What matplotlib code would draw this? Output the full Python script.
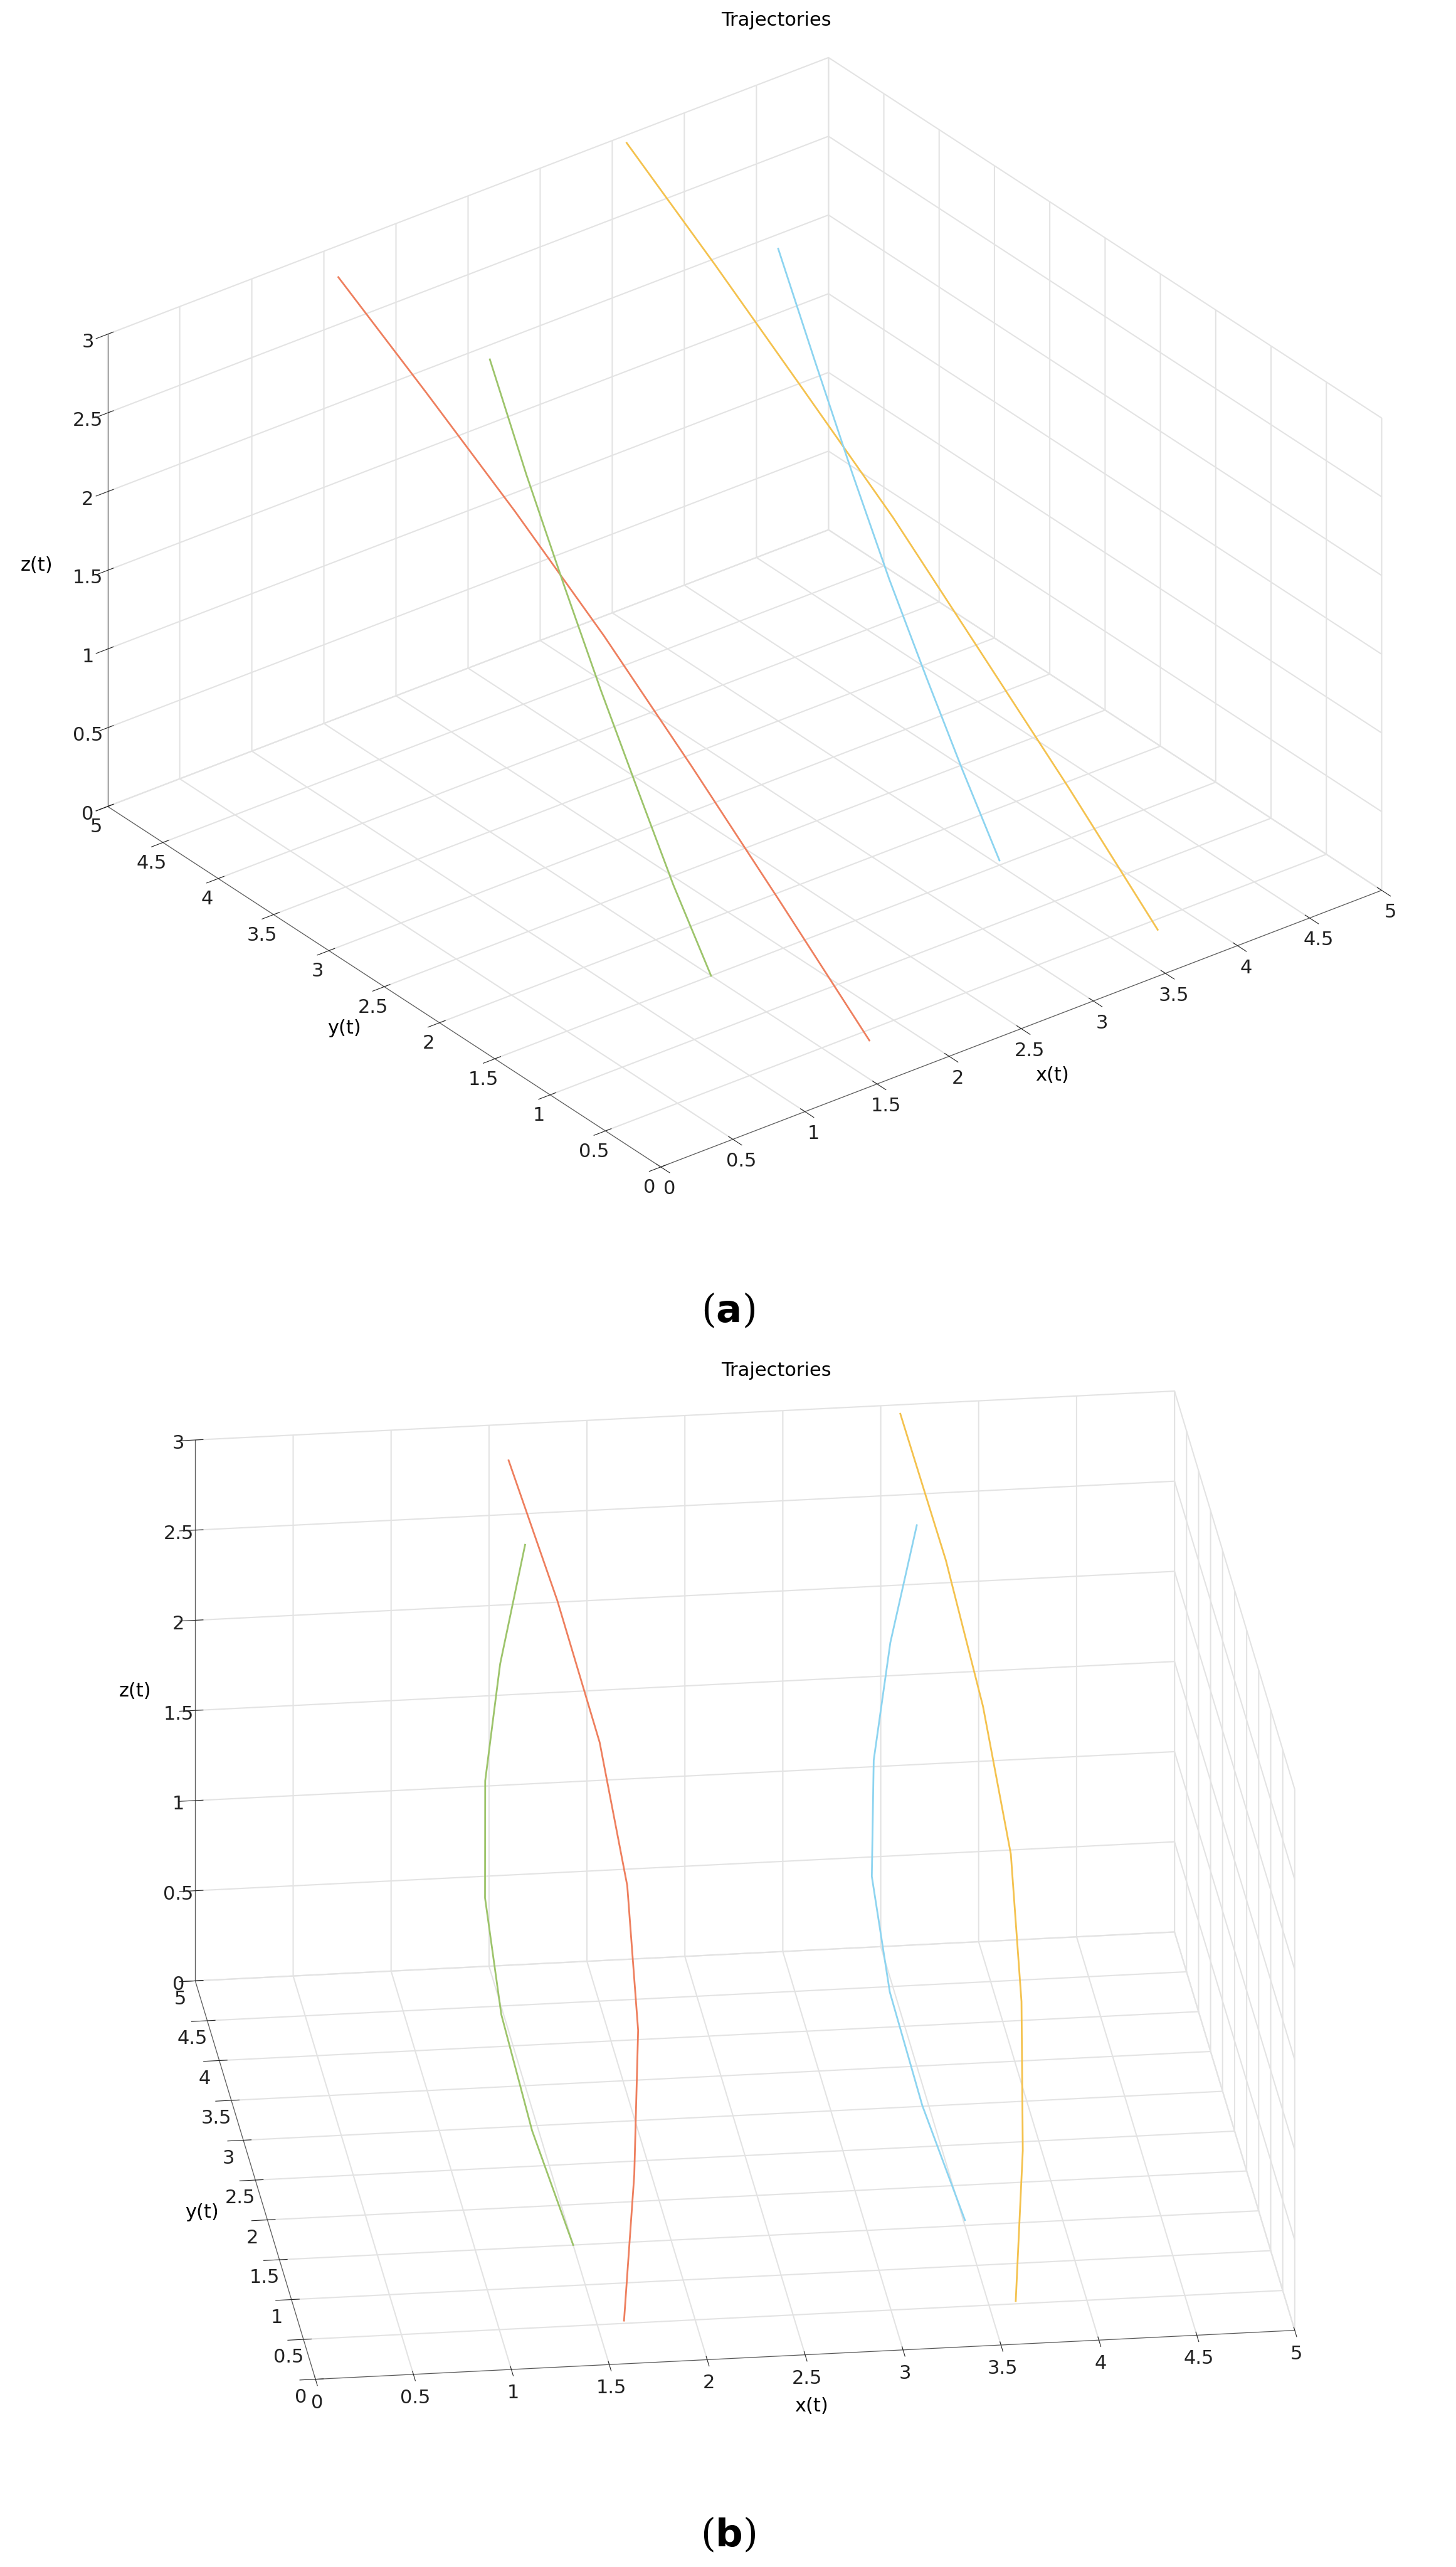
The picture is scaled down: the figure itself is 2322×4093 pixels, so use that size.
import numpy as np
import matplotlib.pyplot as plt

# trajectory points (x, y, z)
red_x = [1.60, 1.78, 1.92, 1.97, 1.92, 1.78, 1.60]
red_y = [0.20, 1.24, 2.22, 3.08, 3.82, 4.44, 5.00]
red_z = [0.15, 0.49, 0.85, 1.27, 1.74, 2.26, 2.80]

green_x = [1.50, 1.30, 1.16, 1.11, 1.16, 1.30, 1.50]
green_y = [1.50, 1.58, 1.72, 1.99, 2.39, 2.91, 3.50]
green_z = [0.00, 0.61, 1.20, 1.73, 2.20, 2.61, 3.00]

yellow_x = [3.60, 3.76, 3.87, 3.92, 3.87, 3.76, 3.60]
yellow_y = [0.20, 1.21, 2.16, 3.01, 3.76, 4.41, 5.00]
yellow_z = [0.15, 0.53, 0.93, 1.37, 1.86, 2.39, 2.95]

blue_x = [3.50, 3.29, 3.14, 3.08, 3.14, 3.29, 3.50]
blue_y = [1.50, 1.56, 1.69, 1.95, 2.36, 2.89, 3.50]
blue_z = [0.03, 0.65, 1.23, 1.76, 2.22, 2.63, 3.00]

xy_ticks = [0, 0.5, 1, 1.5, 2, 2.5, 3, 3.5, 4, 4.5, 5]
z_ticks = [0, 0.5, 1, 1.5, 2, 2.5, 3]

colores = ["#EE7F5E", "#9DC46B", "#F4C24E", "#8DD4F0"]


def dibujar(ax, elev, azim, zoom):
    ax.set_proj_type("ortho")
    ax.view_init(elev=elev, azim=azim)
    ax.plot(red_x, red_y, red_z, color=colores[0], lw=2)
    ax.plot(green_x, green_y, green_z, color=colores[1], lw=2)
    ax.plot(yellow_x, yellow_y, yellow_z, color=colores[2], lw=2)
    ax.plot(blue_x, blue_y, blue_z, color=colores[3], lw=2)
    ax.set_xlim(0, 5)
    ax.set_ylim(0, 5)
    ax.set_zlim(0, 3)
    ax.set_xticks(xy_ticks)
    ax.set_yticks(xy_ticks)
    ax.set_zticks(z_ticks)
    ax.set_xticklabels([f"{t:g}" for t in xy_ticks])
    ax.set_yticklabels([f"{t:g}" for t in xy_ticks])
    ax.set_zticklabels([f"{t:g}" for t in z_ticks])
    ax.set_box_aspect((5, 5, 3), zoom=zoom)
    for eje in (ax.xaxis, ax.yaxis, ax.zaxis):
        eje.set_pane_color((1, 1, 1, 1))
        eje._axinfo["grid"]["color"] = "#E3E3E3"
        eje._axinfo["grid"]["linewidth"] = 1.5
        eje.line.set_color("#555555")
    ax.tick_params(labelsize=22, colors="#222222")
    ax.set_xlabel("x(t)", fontsize=22, labelpad=20)
    ax.set_ylabel("y(t)", fontsize=22, labelpad=20)
    ax.set_zlabel("z(t)", fontsize=22, labelpad=20)


fig = plt.figure(figsize=(23.22, 40.93), dpi=100)

ax1 = fig.add_axes([0.0, 0.515, 1.0, 0.48], projection="3d")
dibujar(ax1, 30, -127.5, 1.1)

ax2 = fig.add_axes([0.0, 0.014, 1.0, 0.49], projection="3d")
dibujar(ax2, 24, -97, 1.17)

fig.text(0.533, 0.992, "Trajectories", ha="center", va="center", fontsize=22)
fig.text(0.533, 0.466, "Trajectories", ha="center", va="center", fontsize=22)

fig.text(0.5, 0.485, r"($\mathbf{a}$)", ha="center", fontsize=44, family="DejaVu Serif")
fig.text(0.5, 0.008, r"($\mathbf{b}$)", ha="center", fontsize=44, family="DejaVu Serif")

plt.savefig("out.png", dpi=100)
